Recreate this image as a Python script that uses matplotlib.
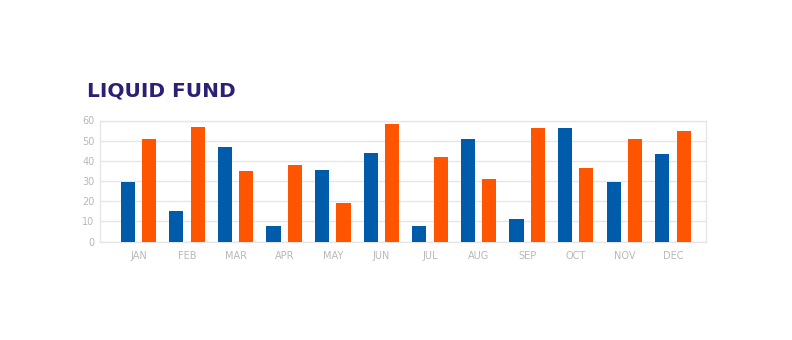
import matplotlib
matplotlib.use("Agg")
import matplotlib.pyplot as plt
import numpy as np

months = ["JAN", "FEB", "MAR", "APR", "MAY", "JUN", "JUL", "AUG", "SEP", "OCT", "NOV", "DEC"]
series_blue = [29.7, 15.2, 46.9, 7.6, 35.5, 43.8, 7.6, 50.7, 11.4, 56.2, 29.7, 43.3]
series_orange = [50.6, 56.9, 34.9, 37.7, 19.0, 58.5, 42.0, 31.1, 56.2, 36.5, 50.6, 54.9]
yticks = [0, 10, 20, 30, 40, 50, 60]
title = "LIQUID FUND"

W, H = 792, 340
fig = plt.figure(figsize=(W / 100, H / 100), dpi=100)
left, right, top, bottom = 100, 706, 120.5, 241.5
ax = fig.add_axes([left / W, 1 - bottom / H, (right - left) / W, (bottom - top) / H])

x = np.arange(len(months))
bw = 0.29
off = 0.22
ax.bar(x - off, series_blue, width=bw, color="#005bab", zorder=3)
ax.bar(x + off, series_orange, width=bw, color="#ff5500", zorder=3)

ax.set_xlim(-0.79, 11.68)
ax.set_ylim(0, 60)
ax.set_yticks(yticks)
ax.set_xticks(x)
ax.set_xticklabels(months)
ax.yaxis.grid(True, color="#e6e6e6", linewidth=1, zorder=0)
ax.xaxis.grid(False)
for s in ax.spines.values():
    s.set_color("#e6e6e6")
    s.set_linewidth(1)
ax.tick_params(axis="both", length=0, labelsize=7, labelcolor="#b8b8b8")
ax.tick_params(axis="x", pad=7)
ax.tick_params(axis="y", pad=4)
for lbl in ax.get_xticklabels() + ax.get_yticklabels():
    lbl.set_fontfamily("DejaVu Sans")

fig.text(87 / W, 1 - 91 / H, title, fontsize=14.5, fontweight="bold",
         color="#2a2075", va="center", ha="left", family="DejaVu Sans")

fig.savefig("out.png", dpi=100, facecolor="white")
